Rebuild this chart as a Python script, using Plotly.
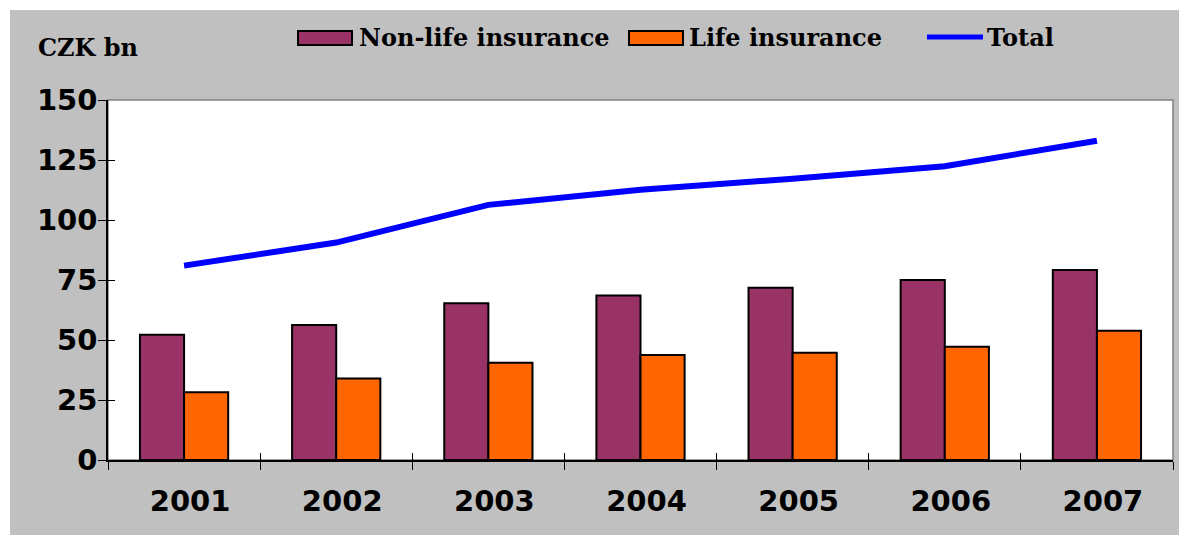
import plotly.graph_objects as go

years = ["2001", "2002", "2003", "2004", "2005", "2006", "2007"]
non_life = [52.2, 56.3, 65.3, 68.5, 71.8, 75.0, 79.2]
life = [28.2, 34.0, 40.5, 43.8, 44.7, 47.2, 53.9]
total = [81.0, 90.6, 106.3, 112.6, 117.2, 122.4, 133.0]
series_names = ["Non-life insurance", "Life insurance", "Total"]
y_ticks = [0, 25, 50, 75, 100, 125, 150]
unit_label = "CZK bn"

C_NONLIFE = "#993366"
C_LIFE = "#ff6600"
C_TOTAL = "#0000ff"
GRAY = "#c0c0c0"

W, H = 1179, 535
L, R, T, B = 108, 6, 100, 75
pw, ph = W - L - R, H - T - B


def px(x):
    return (x - L) / pw


def py(y):
    return (H - B - y) / ph


fig = go.Figure()
fig.add_trace(go.Bar(x=years, y=non_life, name=series_names[0],
                     marker=dict(color=C_NONLIFE, line=dict(color="black", width=2))))
fig.add_trace(go.Bar(x=years, y=life, name=series_names[1],
                     marker=dict(color=C_LIFE, line=dict(color="black", width=2))))
fig.add_trace(go.Scatter(x=years, y=total, name=series_names[2], mode="lines",
                         line=dict(color=C_TOTAL, width=6)))
# invisible trace on the overlay axes (to draw inner half of crossing ticks)
fig.add_trace(go.Scatter(x=years, y=total, xaxis="x2", yaxis="y2", mode="lines",
                         line=dict(width=0), hoverinfo="skip", showlegend=False))

shapes = [
    dict(type="rect", xref="paper", yref="paper", x0=px(10), x1=px(W + 5),
         y0=py(H + 5), y1=py(10), fillcolor=GRAY, line=dict(width=0), layer="below"),
    dict(type="rect", xref="paper", yref="paper", x0=0, x1=1, y0=0, y1=1,
         fillcolor="white", line=dict(color="#808080", width=1.5), layer="below"),
    # legend swatches
    dict(type="rect", xref="paper", yref="paper", x0=px(298), x1=px(352),
         y0=py(45), y1=py(31), fillcolor=C_NONLIFE, line=dict(color="black", width=2)),
    dict(type="rect", xref="paper", yref="paper", x0=px(629), x1=px(683),
         y0=py(45), y1=py(31), fillcolor=C_LIFE, line=dict(color="black", width=2)),
    dict(type="line", xref="paper", yref="paper", x0=px(927), x1=px(983),
         y0=py(37), y1=py(37), line=dict(color=C_TOTAL, width=5)),
]

legend_font = dict(family="DejaVu Serif", size=24, color="black")
annotations = [
    dict(text="<b>%s</b>" % series_names[0], x=px(357), y=py(38), xref="paper", yref="paper",
         xanchor="left", yanchor="middle", showarrow=False, font=legend_font),
    dict(text="<b>%s</b>" % series_names[1], x=px(687), y=py(38), xref="paper", yref="paper",
         xanchor="left", yanchor="middle", showarrow=False, font=legend_font),
    dict(text="<b>%s</b>" % series_names[2], x=px(985), y=py(38), xref="paper", yref="paper",
         xanchor="left", yanchor="middle", showarrow=False, font=legend_font),
    dict(text="<b>%s</b>" % unit_label, x=px(36), y=py(47), xref="paper", yref="paper",
         xanchor="left", yanchor="middle", showarrow=False,
         font=dict(family="DejaVu Serif", size=24, color="black")),
]

tick_font = dict(family="DejaVu Sans", size=29, color="black", weight="bold")

fig.update_layout(
    width=W, height=H,
    margin=dict(l=L, r=R, t=T, b=B, pad=0),
    paper_bgcolor="white",
    plot_bgcolor="white",
    barmode="group",
    bargap=0.42,
    bargroupgap=0,
    showlegend=False,
    shapes=shapes,
    annotations=annotations,
    xaxis=dict(
        type="category", showgrid=False, zeroline=False,
        showline=True, linecolor="black", linewidth=1.5,
        ticks="outside", tickson="boundaries", ticklen=8, tickcolor="black", tickwidth=1,
        tickfont=tick_font, ticklabelstandoff=14, ticklabelshift=6,
    ),
    yaxis=dict(
        range=[0, 150], tickvals=y_ticks, showgrid=False, zeroline=False,
        showline=True, linecolor="black", linewidth=1.5,
        ticks="outside", ticklen=8, tickcolor="black", tickwidth=1,
        tickfont=tick_font, ticklabelstandoff=-5,
    ),
    xaxis2=dict(
        type="category", overlaying="x", matches="x", anchor="y2", side="bottom",
        showgrid=False, zeroline=False, showline=False, showticklabels=False,
        ticks="inside", tickson="boundaries", ticklen=7, tickcolor="black", tickwidth=1,
    ),
    yaxis2=dict(
        overlaying="y", matches="y", anchor="x2", side="left", tickvals=y_ticks,
        showgrid=False, zeroline=False, showline=False, showticklabels=False,
        ticks="inside", ticklen=7, tickcolor="black", tickwidth=1,
    ),
)

fig.write_html("out.html", config={"displayModeBar": False},
               post_script="document.body.style.margin='0';document.body.style.overflow='hidden';")
